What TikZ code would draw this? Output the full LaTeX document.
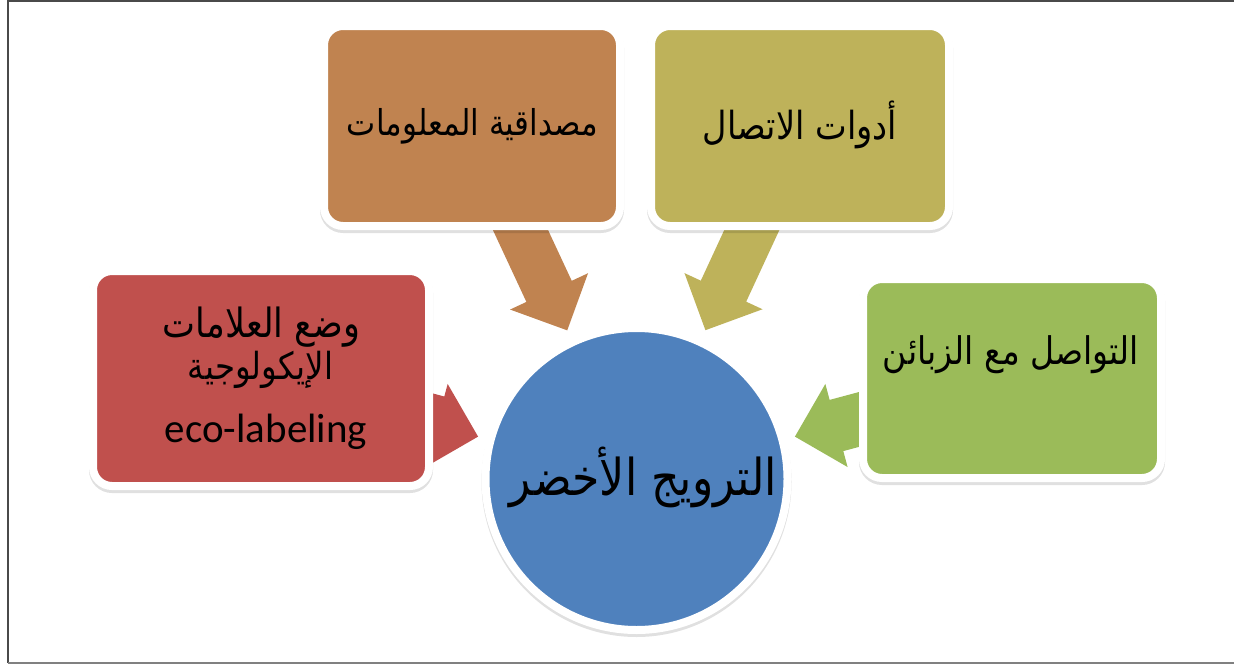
\documentclass[tikz,border=0pt]{standalone}
\usepackage{fontspec}
\usepackage{graphicx}
\newfontfamily\arabicfont[Script=Arabic]{DejaVu Sans}
\newfontfamily\latinfont{Carlito}
\TeXXeTstate=1
\usetikzlibrary{calc,shadows}
\definecolor{cred}{HTML}{C0504D}
\definecolor{cbrown}{HTML}{C08350}
\definecolor{colive}{HTML}{BEB25A}
\definecolor{cgreen}{HTML}{9BBB59}
\definecolor{cblue}{HTML}{4F81BD}
\definecolor{cframe}{HTML}{4A4A4A}
\pgfdeclarelayer{bg}
\pgfsetlayers{bg,main}
% width, text
\newcommand\artxt[2]{\scalebox{1}[1.15]{\resizebox{#1}{!}{\arabicfont #2}}}
% tail, tip, shaft half width, colour
\newcommand\blockarrow[4]{%
  \path ($(#2)!43pt!(#1)$) coordinate (hb);
  \fill[#4] ($(#1)!#3!90:(#2)$) -- ($(hb)!#3!90:(#2)$) -- ($(hb)!43pt!90:(#2)$)
    -- (#2) -- ($(hb)!43pt!-90:(#2)$) -- ($(hb)!#3!-90:(#2)$) -- ($(#1)!#3!-90:(#2)$) -- cycle;
}
\begin{document}
\begin{tikzpicture}[x=1pt,y=-1pt,
  box/.style={rectangle, draw=white, line width=8pt, rounded corners=19pt,
    inner sep=0pt, outer sep=0pt,
    drop shadow={shadow xshift=0pt, shadow yshift=-3pt, opacity=0.12,
      fill=black, draw=black, line width=8pt}},
  circ/.style={circle, draw=white, line width=8pt, fill=cblue,
    minimum size=302pt, inner sep=0pt, outer sep=0pt,
    drop shadow={shadow xshift=0pt, shadow yshift=-3pt, opacity=0.12,
      fill=black, draw=black, line width=8pt}},
  lbl/.style={inner sep=0pt, outer sep=0pt, text=black},
  frame/.style={draw=cframe, line width=1.8pt}]
\useasboundingbox (0,0) rectangle (1234,664);

% boxes
\node[box, fill=cred, minimum width=336pt, minimum height=215pt] (r) at (261,378.5) {};
\node[box, fill=cbrown, minimum width=296pt, minimum height=200pt] (b) at (472,126) {};
\node[box, fill=colive, minimum width=298pt, minimum height=200pt] (o) at (800,126) {};
\node[box, fill=cgreen, minimum width=298pt, minimum height=199pt] (g) at (1012,378.5) {};
\node[circ] (c) at (636.5,479) {};

% arrow tips
\coordinate (tr) at ($(c.center)!164pt!(r.center)$);
\coordinate (tb) at ($(c.center)!164pt!(b.center)$);
\coordinate (to) at ($(c.center)!164pt!(o.center)$);
\coordinate (tg) at ($(c.center)!164pt!(g.center)$);

\begin{pgfonlayer}{bg}
  \fill[white] (0,0) rectangle (1234,664);
  \blockarrow{r.center}{tr}{30pt}{cred}
  \blockarrow{b.center}{tb}{25pt}{cbrown}
  \blockarrow{o.center}{to}{25pt}{colive}
  \blockarrow{g.center}{tg}{26.5pt}{cgreen}
\end{pgfonlayer}

% labels
\node[lbl] (bt) at (472.5,126.5) {\artxt{251pt}{\beginR مصداقية المعلومات\endR}};
\node[lbl] (ot) at (800,125) {\artxt{194pt}{\beginR أدوات الاتصال\endR}};
\node[lbl] (gt) at (1011,354.5) {\artxt{256pt}{\beginR التواصل مع الزبائن\endR}};
\node[lbl] (rt1) at (261.5,327) {\artxt{197pt}{\beginR وضع العلامات\endR}};
\node[lbl] (rt2) at (260.5,370) {\artxt{145pt}{\beginR الإيكولوجية\endR}};
\node[lbl] (rt3) at (266,432) {\resizebox{202pt}{!}{\latinfont eco-labeling}};
\node[lbl] (ct) at (643.5,477.5) {\artxt{267pt}{\beginR الترويج الأخضر\endR}};

% frame
\draw[frame] (8,1) -- (1234,1);
\draw[frame] (8,0) -- (8,663);
\draw[frame, line width=1.5pt, draw=gray] (8,663) -- (1234,663);
\end{tikzpicture}
\end{document}
